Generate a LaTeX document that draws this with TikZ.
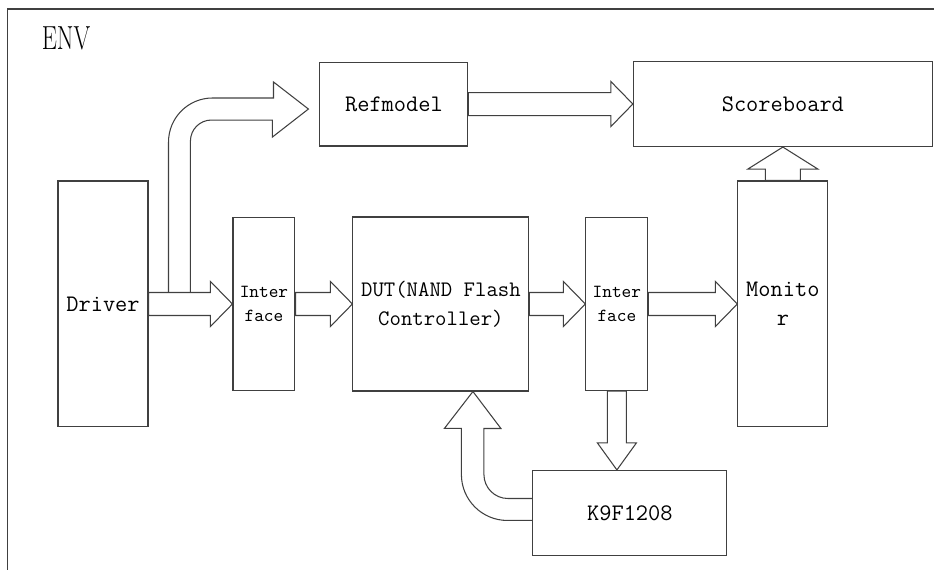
\documentclass[tikz,border=0pt]{standalone}
\usepackage{graphicx}
\usepackage{tikz}
\usetikzlibrary{calc}

\begin{document}
\begin{tikzpicture}[x=0.02cm,y=-0.02cm,
    wire/.style={draw=black!75,line width=0.6pt},
    unit/.style={wire,inner sep=0pt,align=center,font=\fontsize{13.5}{16.4}\selectfont\ttfamily},
    narrow/.style={unit,minimum width=1.24cm,minimum height=3.46cm,font=\fontsize{10.5}{13.6}\selectfont\ttfamily},
    fat/.style n args={3}{to path={
      ($(\tikztostart)!#1!90:(\tikztotarget)$)
      -- ($($(\tikztotarget)!#3!(\tikztostart)$)!#1!90:(\tikztotarget)$)
      -- ($($(\tikztotarget)!#3!(\tikztostart)$)!#2!90:(\tikztotarget)$)
      -- (\tikztotarget)
      -- ($($(\tikztotarget)!#3!(\tikztostart)$)!#2!-90:(\tikztotarget)$)
      -- ($($(\tikztotarget)!#3!(\tikztostart)$)!#1!-90:(\tikztotarget)$)
      -- ($(\tikztostart)!#1!-90:(\tikztotarget)$) -- cycle}},
    std/.style={fat={0.23cm}{0.45cm}{0.44cm}}]
      \useasboundingbox (0,0) rectangle (934,570);
      \draw[wire] (7.5,570) |- (934,9);
      \node[font=\fontsize{19}{21}\selectfont] (env) at (66,38) {\scalebox{0.72}[1]{ENV}};

      \node[unit,minimum width=1.8cm,minimum height=4.92cm] (drv) at (103,304) {Driver};
      \node[narrow,right of=drv,xshift=2.22cm] (if1) {Inter\\face};
      \node[unit,right of=if1,xshift=2.54cm,minimum width=3.52cm,minimum height=3.48cm,
            font=\fontsize{12.6}{16.4}\selectfont\ttfamily] (dut) {DUT(NAND Flash\\Controller)};
      \node[narrow,right of=dut,xshift=2.52cm] (if2) {Inter\\face};
      \node[unit,right of=if2,xshift=2.32cm,minimum width=1.8cm,minimum height=4.92cm] (mon) {Monito\\r};
      \node[unit,above of=dut,xshift=-0.94cm,yshift=3cm,minimum width=2.96cm,minimum height=1.68cm] (ref) {Refmodel};
      \node[unit,above of=mon,yshift=3cm,minimum width=5.98cm,minimum height=1.7cm] (sb) {Scoreboard};
      \node[unit,below of=if2,xshift=0.26cm,yshift=-3.18cm,minimum width=3.88cm,minimum height=1.7cm] (k9) {K9F1208};

      \draw[wire] (drv.east) to[std] (if1.west);
      \draw[wire] (if1.east) to[std] (dut.west);
      \draw[wire] (dut.east) to[std] (if2.west);
      \draw[wire] (if2.east) to[std] (mon.west);
      \draw[wire] (ref.east) to[std] (sb.west);
      \draw[wire] (mon.north) to[fat={0.35cm}{0.7cm}{0.44cm}] (sb.south);
      \draw[wire] (if2.south) to[fat={0.19cm}{0.39cm}{0.54cm}] (if2.south |- k9.north);

      \draw[wire] ($(drv.east)+(20,-12)$) -- ++(0,-150) arc[start angle=180,end angle=270,radius=44]
        -- ++(61,0) -- ++(0,-16) -- ($(ref.west)+(-11,5)$) -- ++(-36,28) -- ++(0,-17)
        -- ++(-61,0) arc[start angle=270,end angle=180,radius=21] -- ++(0,151);
      \draw[wire] ($(k9.west)+(0,7.5)$) -- ++(-25,0) arc[start angle=90,end angle=180,radius=46]
        -- ++(0,-46) -- ++(-17,0) -- ($(dut.south)+(32,0)$) -- ++(28,37) -- ++(-17,0)
        -- ++(0,46) arc[start angle=180,end angle=90,radius=24] -- ++(25,0);
    \end{tikzpicture}
\end{document}
